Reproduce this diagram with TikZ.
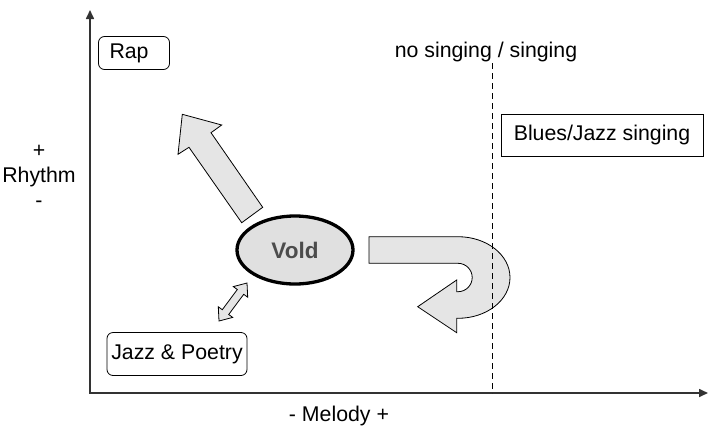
\documentclass[tikz,border=0pt]{standalone}
\usepackage{fontspec}
\setmainfont{Liberation Sans}
\usetikzlibrary{arrows.meta,shapes.geometric}
\begin{document}
\begin{tikzpicture}[x=1pt,y=-1pt,
  axis/.style={draw=black!80,line width=1.6pt,{Triangle[length=9pt,width=8pt]}-{Triangle[length=9pt,width=8pt]}},
  label/.style={font=\fontsize{21.3}{25}\selectfont,inner sep=0pt},
  genre/.style={label,draw,line width=0.8pt,rounded corners=6pt,minimum height=33pt},
  bigarrow/.style={draw,fill=black!10,line width=0.8pt}]
\useasboundingbox (0,0) rectangle (708,434);
% Draw axes
\coordinate (y-top) at (90,10);
\coordinate (x-end) at (708,393);
\draw[axis] (y-top) |- (x-end);
\node[label,align=center] (rhythm) at (39,176) {+\\Rhythm\\-};
\node[label] (melody) at (339,416) {- Melody +};
% Genre boxes
\node[genre,text width=49pt,inner xsep=11pt,align=left] (rap) at (134,53) {Rap};
\node[genre,minimum width=140pt,minimum height=43pt] (jazz-poetry) at (177,354) {Jazz \& Poetry};
\node[genre,rounded corners=0pt,minimum width=202pt,minimum height=42pt] (blues) at (602,135) {Blues/Jazz singing};
% Vold in the middle
\node[ellipse,draw,line width=3.3pt,fill=black!12,minimum width=116pt,minimum height=68pt,inner sep=0pt,
  font=\fontsize{22.5}{25}\selectfont\bfseries,text=black!70] (vold) at (295,250) {Vold};
% Arrow up to rap
\draw[bigarrow] (241.7,222.7) -- (262.7,207.3) -- (211,132.7) -- (221.7,125) -- (182.3,114.3)
  -- (178,154.3) -- (189,147.3) -- cycle;
% Arrow to and from jazz & poetry
\draw[bigarrow] (247,283) -- (247.7,297.2) -- (243.7,294.3) -- (228.7,314.5) -- (232.7,317.4)
  -- (219,321) -- (218.3,306.8) -- (222.3,309.7) -- (237.3,289.5) -- (233.3,286.6) -- cycle;
% U-turn over the singing line and back
\draw[bigarrow] (369,236.7) -- (458,236.7) arc[start angle=-90,end angle=90,x radius=52,y radius=40.8]
  -- (456.7,318.3) -- (456.7,332.7) -- (417.7,306.7) -- (456.7,280) -- (456.7,291.7) -- (458,291.7)
  arc[start angle=90,end angle=-90,radius=14.2] -- (369,263.3) -- cycle;
% Singing line
\coordinate (line-top) at (492,63);
\coordinate (line-bottom) at (492,393);
\draw[line width=1pt,dash pattern=on 6pt off 4pt] (line-top) -- (line-bottom);
\node[label] (singing) at (486,52) {no singing / singing};
\end{tikzpicture}
\end{document}
